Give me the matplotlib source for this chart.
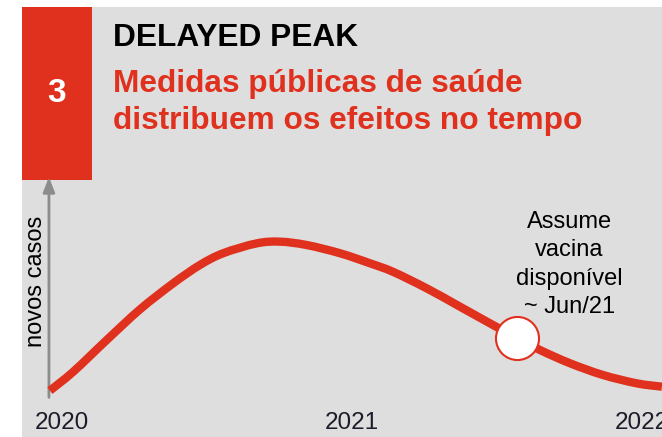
import matplotlib
matplotlib.use("Agg")
import numpy as np
import matplotlib.pyplot as plt
from matplotlib.patches import Rectangle, PathPatch
from matplotlib.path import Path

plt.rcParams['font.family'] = ['Liberation Sans', 'DejaVu Sans']

# curva de novos casos (meses desde jan/2020, valor relativo ao pico ~ 100)
months = [-0.5, 0.47, 1.85, 3.23, 4.6, 5.71, 6.67, 8.06, 9.02, 10.12, 11.5,
          12.74, 13.69, 15.09, 16.47, 17.83, 18.83, 19.78, 21.02, 22.38,
          23.78, 24.82]
cases = [0.9, 13.4, 34.2, 54.4, 71.5, 83.6, 91.3, 97.8, 98.9, 96.7, 91.3,
         84.7, 79.1, 68.2, 56.1, 44.1, 35.5, 27.6, 18.9, 11.2, 5.7, 3.5]

# ponto da vacina
vac_month = 18.83
vac_cases = 35.5

year_ticks = [0, 12, 24]
year_labels = ["2020", "2021", "2022"]

red = "#e0301e"
gray_bg = "#dedede"

W, H = 662, 437
fig = plt.figure(figsize=(W / 100, H / 100), dpi=100)
fig.patch.set_facecolor("white")

ax = fig.add_axes([0, 0, 1, 1])
ax.set_facecolor("white")
# pixel 62 -> mes 0, 24.17 px por mes ; pixel y 392 -> 0 casos, 1.52 px por unidade
ax.set_xlim(-62 / 24.17, (W - 62) / 24.17)
ax.set_ylim(-(H - 392) / 1.52, 392 / 1.52)
ax.axis("off")

# fundo cinza e caixa vermelha
ax.add_patch(Rectangle((22 / W, 0), 1 - 22 / W, (H - 7) / H, transform=ax.transAxes,
                       facecolor=gray_bg, edgecolor="none", zorder=0))
ax.add_patch(Rectangle((22 / W, 1 - 180 / H), 70 / W, 173 / H, transform=ax.transAxes,
                       facecolor=red, edgecolor="none", zorder=1))
ax.text(57 / W, 1 - 93 / H, "3", transform=ax.transAxes, color="white",
        fontsize=24, fontweight="bold", ha="center", va="center", zorder=2)

# titulo
fig.text(113 / W, 1 - 46 / H, "DELAYED PEAK", fontsize=22.8, fontweight="bold",
         color="black", va="baseline", ha="left")
fig.text(113 / W, 1 - 92 / H, "Medidas públicas de saúde", fontsize=22.8,
         fontweight="bold", color=red, va="baseline", ha="left")
fig.text(113 / W, 1 - 129 / H, "distribuem os efeitos no tempo", fontsize=22.8,
         fontweight="bold", color=red, va="baseline", ha="left")

# eixo y (seta)
ax.annotate("", xy=(-0.54, (392 - 177) / 1.52), xytext=(-0.54, -3.5),
            arrowprops=dict(arrowstyle="-|>,head_length=0.9,head_width=0.35",
                            color="#8c8c8c", lw=2, shrinkA=0, shrinkB=0), zorder=3)
ax.text(36 / W, 1 - 281 / H, "novos casos", transform=ax.transAxes, rotation=90,
        fontsize=17, ha="center", va="center", color="black")

# curva suave passando pelos pontos (segmentos de Bezier, tangentes Catmull-Rom)
pts = np.column_stack([months, cases])
verts = [pts[0]]
codes = [Path.MOVETO]
for i in range(len(pts) - 1):
    p0 = pts[max(i - 1, 0)]
    p1 = pts[i]
    p2 = pts[i + 1]
    p3 = pts[min(i + 2, len(pts) - 1)]
    verts += [p1 + (p2 - p0) / 6, p2 - (p3 - p1) / 6, p2]
    codes += [Path.CURVE4] * 3
ax.add_patch(PathPatch(Path(verts, codes), facecolor="none", edgecolor=red,
                       lw=6, capstyle="butt", zorder=4))
ax.plot([vac_month], [vac_cases], "o", ms=31, mfc="white", mec=red, mew=1.5, zorder=5)

ax.text(21.0, (392 - 211) / 1.52, "Assume\nvacina\ndisponível\n~ Jun/21",
        fontsize=17, ha="center", va="top", ma="center", linespacing=1.37,
        color="black", zorder=5)

# rotulos dos anos
for m, lab in zip(year_ticks, year_labels):
    ax.text(m, (392 - 429) / 1.52, lab, fontsize=17.5, ha="center", va="baseline",
            color="#1c1c2a", zorder=5)

fig.savefig("out.png", dpi=100)
